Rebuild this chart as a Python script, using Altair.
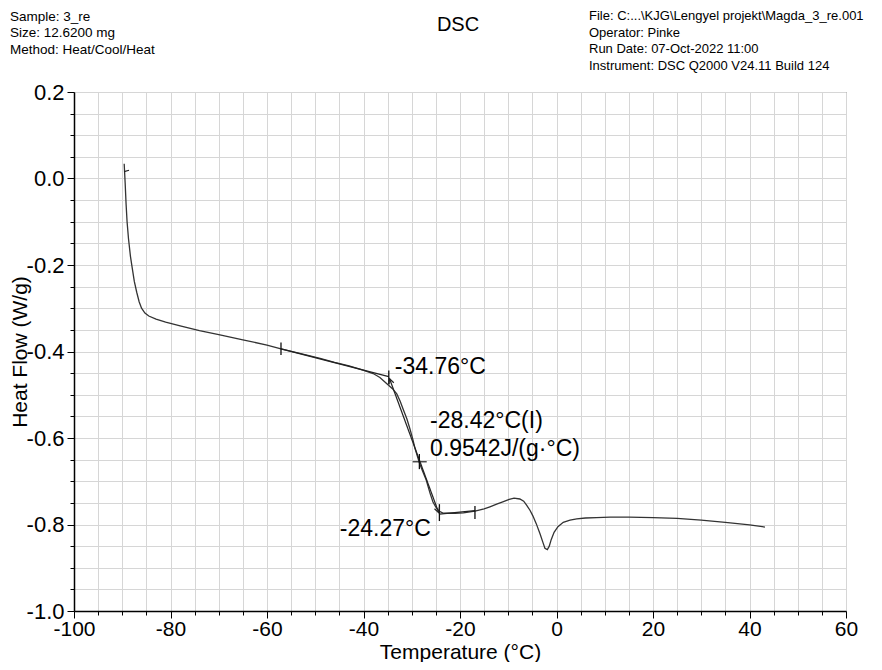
import altair as alt
import pandas as pd

# ---- main DSC curve ----
temperature = [-89.6, -89.4, -89.2, -89.0, -88.7, -88.3, -88.0, -87.5, -87.0, -86.5,
               -86.0, -85.3, -84.5, -83.0, -81.0, -78.0, -74.0, -70.0, -65.0, -60.0,
               -57.1, -53.0, -49.0, -46.0, -43.0, -40.1, -38.0, -36.6, -35.1, -34.0,
               -33.1, -32.4, -31.7, -31.0, -30.4, -29.8, -29.3, -28.4, -27.7, -27.0,
               -26.2, -25.6, -25.0, -24.4, -23.6, -22.5, -21.0, -19.3, -16.9, -15.0,
               -13.8, -12.4, -11.0, -9.8, -8.8, -7.6, -6.8, -6.2, -5.5, -4.9,
               -4.2, -3.4, -2.8, -2.4, -1.9, -1.5, -1.1, -0.5, 0.3, 1.4,
               2.8, 4.2, 6.0, 8.3, 11.1, 15.0, 20.0, 25.0, 30.0, 35.0,
               40.0, 43.2]
heat_flow = [0.034, -0.010, -0.060, -0.100, -0.140, -0.180, -0.202, -0.238, -0.263, -0.285,
             -0.300, -0.311, -0.318, -0.325, -0.332, -0.341, -0.352, -0.361, -0.373, -0.385,
             -0.394, -0.405, -0.416, -0.425, -0.433, -0.443, -0.451, -0.460, -0.475, -0.486,
             -0.498, -0.515, -0.536, -0.556, -0.578, -0.602, -0.625, -0.658, -0.678, -0.697,
             -0.728, -0.748, -0.760, -0.769, -0.773, -0.774, -0.774, -0.773, -0.769, -0.764,
             -0.759, -0.753, -0.747, -0.742, -0.739, -0.741, -0.746, -0.755, -0.767, -0.780,
             -0.798, -0.822, -0.842, -0.855, -0.858, -0.850, -0.835, -0.818, -0.805, -0.795,
             -0.790, -0.787, -0.785, -0.784, -0.783, -0.783, -0.784, -0.786, -0.790, -0.795,
             -0.801, -0.806]

# ---- glass transition analysis construction lines ----
seg_name = ["base1", "base1", "tangent", "tangent", "base2", "base2", "cross", "cross", "start", "start"]
seg_T = [-57.1, -34.76, -34.6, -24.4, -24.27, -16.9, -29.8, -26.9, -89.6, -88.6]
seg_HF = [-0.394, -0.458, -0.463, -0.773, -0.776, -0.768, -0.655, -0.655, 0.016, 0.019]

tick_T = [-57.1, -34.76, -28.42, -24.27, -16.9]
tick_lo = [-0.408, -0.475, -0.672, -0.792, -0.787]
tick_hi = [-0.379, -0.444, -0.637, -0.753, -0.757]

arrow_up_T, arrow_up_HF = [-34.6], [-0.463]
arrow_dn_T, arrow_dn_HF = [-24.4], [-0.773]

label_text = ["-34.76°C", "-28.42°C(I)", "0.9542J/(g·°C)", "-24.27°C"]
label_T = [-33.5, -26.2, -26.2, -44.9]
label_HF = [-0.436, -0.561, -0.625, -0.810]

left_header = ["Sample: 3_re", "Size:  12.6200 mg", "Method: Heat/Cool/Heat"]
right_header = ["File: C:...\\KJG\\Lengyel projekt\\Magda_3_re.001", "Operator: Pinke",
                "Run Date: 07-Oct-2022 11:00", "Instrument: DSC Q2000 V24.11 Build 124"]
chart_title = "DSC"

x_ticks = list(range(-100, 61, 5))
y_ticks = [round(-1.0 + 0.05 * i, 2) for i in range(25)]

FONT = "Liberation Sans"

curve_df = pd.DataFrame({"T": temperature, "HF": heat_flow})
seg_df = pd.DataFrame({"seg": seg_name, "T": seg_T, "HF": seg_HF})
tick_df = pd.DataFrame({"T": tick_T, "lo": tick_lo, "hi": tick_hi})
up_df = pd.DataFrame({"T": arrow_up_T, "HF": arrow_up_HF})
dn_df = pd.DataFrame({"T": arrow_dn_T, "HF": arrow_dn_HF})
lab_df = pd.DataFrame({"text": label_text, "T": label_T, "HF": label_HF})
one = pd.DataFrame({"k": [0]})

x_axis = alt.Axis(
    values=x_ticks,
    labelExpr="datum.value % 20 === 0 ? replace(format(datum.value, 'd'), '\u2212', '-') : ''",
    title="Temperature (°C)",
    tickSize={"condition": {"test": "datum.value % 20 === 0", "value": 7}, "value": 4},
    labelPadding=0, labelFlush=False, labelOverlap=False, labelFontSize=21,
    titleY=47, titleBaseline="alphabetic", titleFontSize=21,
)
y_axis = alt.Axis(
    values=y_ticks,
    labelExpr="abs(round(datum.value * 100)) % 20 === 0 ? replace(format(datum.value, '.1f'), '\u2212', '-') : ''",
    title="Heat Flow (W/g)",
    tickSize={"condition": {"test": "abs(round(datum.value * 100)) % 20 === 0", "value": 7}, "value": 4},
    labelPadding=3, labelFlush=False, labelOverlap=False, labelFontSize=22,
    titleX=-65, titleY=259.5, titleAngle=270, titleBaseline="top", titleAlign="center",
    titleFontSize=21,
)
x_scale = alt.Scale(domain=[-100, 60], nice=False, zero=False)
y_scale = alt.Scale(domain=[-1.0, 0.2], nice=False, zero=False)

X = alt.X("T:Q", scale=x_scale, axis=x_axis)
Y = alt.Y("HF:Q", scale=y_scale, axis=y_axis)

curve = alt.Chart(curve_df).mark_line(color="#333333", strokeWidth=1.3).encode(x=X, y=Y)
segs = alt.Chart(seg_df).mark_line(color="#222222", strokeWidth=1.2).encode(x=X, y=Y, detail="seg:N")
ticks = alt.Chart(tick_df).mark_rule(color="#111111", strokeWidth=1.3).encode(
    x=X, y=alt.Y("lo:Q", scale=y_scale, axis=y_axis), y2="hi:Q")
up_arrow = alt.Chart(up_df).mark_point(
    shape="M -0.5 1 L 0 0 L 0.5 1", filled=False, color="#222222", size=110, angle=340, strokeWidth=1.2, opacity=1
).encode(x=X, y=Y)
dn_arrow = alt.Chart(dn_df).mark_point(
    shape="M -0.5 -1 L 0 0 L 0.5 -1", filled=False, color="#222222", size=110, angle=340, strokeWidth=1.2, opacity=1
).encode(x=X, y=Y)
labels = alt.Chart(lab_df).mark_text(
    align="left", baseline="middle", font=FONT, fontSize=23, color="black"
).encode(x=X, y=Y, text="text:N")

hdr_left = alt.Chart(one).mark_text(
    align="left", baseline="top", font=FONT, fontSize=13.5, lineHeight=16.3, color="black"
).encode(x=alt.value(-64), y=alt.value(-82), text=alt.value(left_header))
hdr_right = alt.Chart(one).mark_text(
    align="left", baseline="top", font=FONT, fontSize=13, lineHeight=16.6, color="black"
).encode(x=alt.value(515), y=alt.value(-82), text=alt.value(right_header))
hdr_title = alt.Chart(one).mark_text(
    align="center", baseline="middle", font=FONT, fontSize=20, color="black"
).encode(x=alt.value(384), y=alt.value(-67), text=alt.value(chart_title))

chart = alt.layer(curve, segs, ticks, up_arrow, dn_arrow, labels, hdr_left, hdr_right, hdr_title).properties(
    width=772, height=519,
    autosize=alt.AutoSizeParams(type="none"),
    padding={"left": 66, "top": 84, "right": 28, "bottom": 51},
    background="white",
).configure_view(
    stroke="#555555", strokeWidth=1
).configure_axis(
    domainColor="black", domainWidth=1.5, tickColor="black", tickWidth=1,
    grid=True, gridColor="#d6d6d6", gridWidth=1,
    labelFont=FONT, titleFont=FONT,
    titleFontWeight="normal", labelColor="black", titleColor="black",
)

chart.save("out.html", embed_options={"renderer": "svg", "actions": False})
